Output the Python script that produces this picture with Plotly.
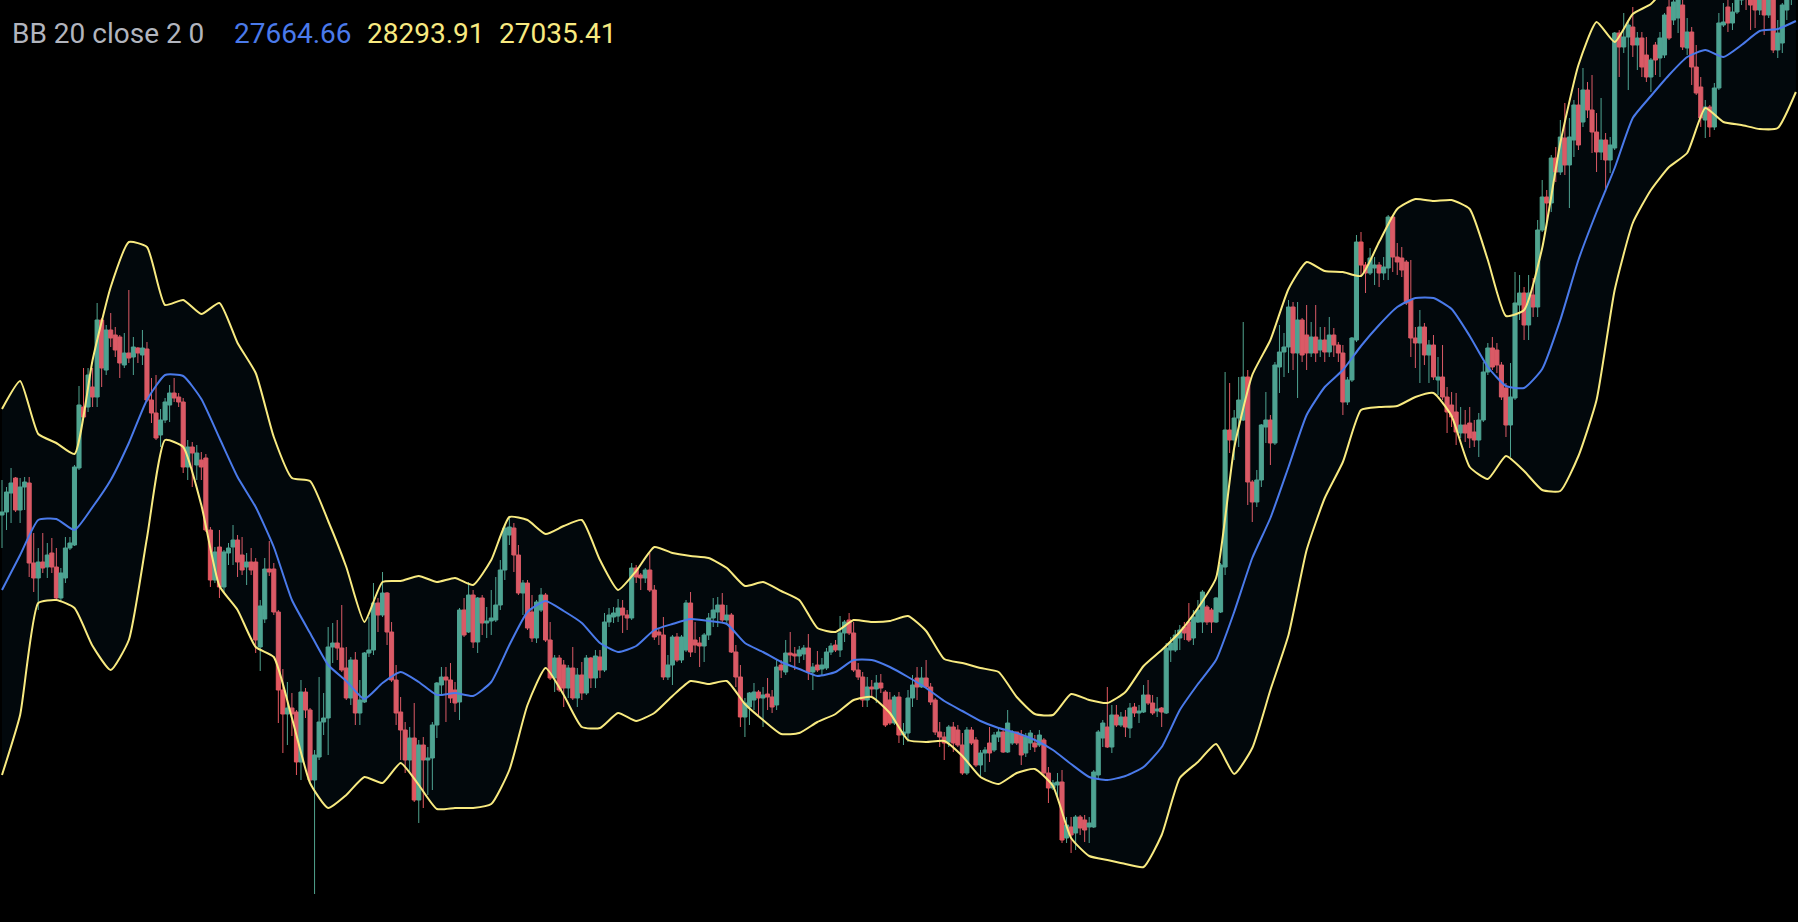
import plotly.graph_objects as go

# ---------------- data (price per candle) ----------------
opens = [
22850, 22880, 23070, 23220, 22900, 23130, 23170, 22370, 22220, 22380,
22330, 22470, 22330, 22020, 22220, 22520, 22550, 23320, 23930, 23930,
24130, 24030, 24800, 24300, 24700, 24650, 24630, 24350, 24470, 24430,
24520, 24450, 24510, 24000, 23870, 23650, 23800, 23950, 24070, 24030,
23980, 23330, 23530, 23350, 23400, 23420, 22700, 22200, 22530, 22130,
22470, 22530, 22600, 22450, 22330, 22380, 22380, 21530, 21810, 22310,
22310, 21880, 21100, 20860, 20920, 20880, 20380, 21080, 20900, 20200,
20430, 20780, 20820, 21530, 21570, 21520, 21320, 21020, 21400, 20870,
20980, 21470, 21500, 21970, 21850, 22070, 21680, 21200, 20880, 20700,
20400, 20620, 20000, 20550, 20400, 20420, 20750, 21150, 21230, 21200,
21100, 20980, 21900, 21680, 22050, 21580, 22020, 21770, 21790, 21800,
21950, 22300, 22650, 22720, 22450, 22070, 22170, 21880, 21620, 21900,
22050, 21600, 21220, 21420, 21350, 21120, 21320, 21020, 21250, 21070,
21420, 21220, 21430, 21300, 21780, 21830, 21840, 21920, 21850, 21820,
22320, 22250, 22220, 22300, 22100, 21680, 21650, 21230, 21350, 21630,
21400, 21500, 21970, 21600, 21570, 21540, 21650, 21820, 21880, 21950,
21800, 21850, 21480, 21230, 20830, 20930, 21000, 21080, 21020, 21060,
21030, 20950, 21350, 21280, 21470, 21460, 21440, 21460, 21520, 21280,
21350, 21310, 21320, 21480, 21550, 21500, 21670, 21800, 21670, 21300,
21230, 21000, 21130, 21110, 21170, 21080, 21000, 20770, 21030, 20650,
20670, 21020, 21220, 21130, 21220, 21130, 21000, 20680, 20630, 20580,
20730, 20700, 20550, 20270, 20700, 20600, 20350, 20470, 20570, 20500,
20630, 20680, 20480, 20570, 20680, 20650, 20470, 20570, 20570, 20550,
20600, 20270, 20120, 20150, 20180, 19620, 19730, 19670, 19830, 19800,
19730, 19730, 20250, 20620, 20730, 20530, 20850, 20750, 20830, 20720,
20930, 20870, 20880, 21050, 20970, 20890, 20920, 20870, 21500, 21500,
21620, 21730, 21780, 21620, 21780, 21780, 21930, 21900, 21780, 21880,
22330, 23700, 23600, 23820, 23800, 24230, 23180, 22980, 23200, 23730,
23800, 23570, 24330, 24480, 24530, 24930, 24470, 24800, 24650, 24470,
24630, 24500, 24600, 24480, 24650, 24550, 24470, 23980, 24200, 24600,
25580, 25350, 25270, 25320, 25350, 25270, 25320, 25830, 25430, 25420,
25380, 25000, 24620, 24570, 24730, 24450, 24550, 24200, 24230, 24030,
23950, 23880, 23670, 23750, 23770, 23680, 23600, 23800, 24280, 24520,
24500, 24350, 24120, 23750, 24020, 24950, 25070, 24750, 25050, 24930,
25700, 26030, 25970, 26420, 26280, 26620, 26350, 26600, 26950, 26780,
27100, 26900, 26680, 26480, 26600, 26400, 26520, 27670, 27530, 27630,
27730, 27550, 27620, 27450, 27230, 27550, 27420, 27450, 27930, 27800,
27820, 27950, 27520, 27680, 27330, 27130, 26800, 26930, 26730, 27120,
27750, 27930, 27770, 27880, 28000, 28200, 28100, 28000, 27900, 28050,
27850, 28050, 27500, 27570, 27900, 28050,
]

highs = [
23200, 23130, 23320, 23230, 23220, 23230, 23230, 22670, 22520, 22670,
22570, 22620, 22520, 22320, 22630, 22630, 23350, 24140, 24320, 24320,
24320, 24970, 24820, 24750, 24870, 24730, 24650, 24670, 25100, 24630,
24530, 24700, 24580, 24220, 24250, 23910, 24020, 24150, 24220, 24070,
24020, 23600, 23580, 23550, 23480, 23460, 22730, 22530, 22700, 22500,
22570, 22750, 22650, 22630, 22470, 22520, 22420, 22000, 22420, 22590,
22370, 21900, 21310, 21180, 21070, 20900, 21200, 21120, 20920, 20500,
21230, 21070, 21730, 21770, 21800, 21950, 21530, 21430, 21480, 21200,
21480, 21830, 22170, 22020, 22280, 22080, 21780, 21350, 21030, 20780,
20730, 20970, 20600, 20630, 20530, 20780, 21180, 21330, 21330, 21370,
21180, 21920, 22020, 22180, 22100, 22030, 22050, 21930, 22100, 22230,
22400, 22750, 22820, 22770, 22550, 22200, 22200, 22050, 22000, 22120,
22070, 21780, 21450, 21450, 21400, 21350, 21530, 21320, 21380, 21450,
21430, 21500, 21500, 21870, 21920, 21930, 22010, 22000, 21900, 22370,
22350, 22270, 22320, 22470, 22150, 21720, 21830, 21450, 21650, 21670,
21650, 22000, 22080, 21780, 21630, 21670, 21870, 22020, 22030, 22070,
21950, 21870, 21550, 21350, 21020, 21080, 21170, 21100, 21130, 21220,
21100, 21400, 21400, 21600, 21680, 21530, 21540, 21550, 21660, 21370,
21490, 21420, 21520, 21570, 21600, 21840, 21800, 21870, 21780, 21370,
21280, 21230, 21200, 21250, 21260, 21100, 21080, 21050, 21080, 20770,
21100, 21250, 21330, 21330, 21400, 21170, 21020, 20780, 20680, 20750,
20780, 20750, 20670, 20730, 20730, 20630, 20500, 20530, 20730, 20680,
20730, 20700, 20900, 20700, 20680, 20700, 20670, 20700, 20650, 20700,
20620, 20330, 20200, 20270, 20300, 19830, 19830, 19850, 19850, 19850,
19830, 20300, 20700, 20800, 21130, 20950, 20950, 20880, 20900, 20970,
20970, 20950, 21150, 21200, 21050, 21030, 20930, 21570, 21630, 21700,
21750, 21780, 21970, 21900, 22000, 22100, 21950, 21920, 22030, 22370,
24280, 24170, 23900, 24230, 24780, 24300, 23200, 23300, 23760, 24080,
23850, 24380, 24750, 24670, 25000, 24980, 24980, 24820, 24950, 24780,
24950, 24730, 24730, 24830, 24720, 24580, 24550, 24230, 24630, 25650,
25680, 25380, 25520, 25430, 25380, 25430, 25850, 25850, 25570, 25530,
25400, 25400, 24730, 24900, 24770, 24600, 24650, 24430, 24550, 24130,
24080, 24070, 23930, 23900, 23930, 23800, 23870, 24380, 24570, 24630,
24570, 24380, 24170, 24370, 25280, 25250, 25130, 25250, 25220, 25800,
26200, 26100, 26450, 26530, 26800, 26970, 26820, 27000, 27120, 27320,
27180, 27250, 26870, 27020, 26670, 26630, 27680, 27700, 27870, 27800,
27930, 27680, 27680, 27630, 27420, 27580, 27680, 27870, 28000, 28080,
28100, 28050, 27820, 27730, 27550, 27230, 27000, 26950, 27170, 27870,
27970, 28030, 27970, 28080, 28300, 28300, 28200, 28100, 28150, 28100,
28100, 28100, 27800, 27970, 28100, 28300,
]

lows = [
22520, 22700, 22770, 22880, 22770, 22900, 22230, 22080, 21900, 22270,
22220, 22270, 22000, 21980, 22170, 22500, 22540, 23300, 23820, 23880,
23930, 23930, 24130, 24250, 24530, 24430, 24220, 24320, 24370, 24250,
24370, 24350, 23980, 23770, 23600, 23530, 23770, 23780, 23980, 23930,
23270, 23200, 23130, 23200, 23200, 22680, 22130, 22170, 22020, 22080,
22350, 22350, 22230, 22250, 22150, 22250, 21470, 21290, 21770, 22240,
21850, 20770, 20470, 20550, 20640, 20250, 20200, 20820, 20180, 19060,
20400, 20650, 20450, 21370, 21400, 21280, 21000, 20950, 20750, 20750,
20970, 21430, 21450, 21680, 21830, 21550, 21180, 20750, 20400, 20270,
20270, 19980, 19770, 19920, 20050, 20100, 20620, 21050, 20780, 20970,
20880, 20800, 21630, 21670, 21520, 21470, 21650, 21620, 21650, 21780,
21900, 22200, 22550, 22280, 22050, 21850, 21700, 21580, 21570, 21880,
21580, 21200, 21080, 21080, 20930, 21020, 21000, 20930, 21000, 21050,
21120, 21120, 21220, 21280, 21730, 21770, 21780, 21670, 21700, 21800,
22170, 22100, 22170, 22080, 21600, 21550, 21200, 21200, 21150, 21380,
21370, 21480, 21430, 21470, 21330, 21380, 21600, 21730, 21730, 21780,
21750, 21470, 21130, 20730, 20630, 20750, 20900, 20850, 20730, 20900,
20870, 20900, 21220, 21250, 21380, 21300, 21370, 21400, 21200, 21100,
21280, 21240, 21300, 21450, 21480, 21430, 21580, 21650, 21280, 21200,
20930, 20930, 21020, 20970, 21070, 20730, 20750, 20750, 20570, 20550,
20580, 20930, 21000, 21120, 21120, 20950, 20650, 20530, 20400, 20530,
20480, 20530, 20250, 20250, 20550, 20330, 20230, 20280, 20380, 20480,
20580, 20470, 20470, 20550, 20550, 20350, 20430, 20500, 20480, 20530,
20230, 19970, 20100, 20030, 19570, 19570, 19470, 19500, 19650, 19580,
19570, 19720, 20220, 20530, 20520, 20470, 20730, 20730, 20630, 20620,
20830, 20770, 20870, 20950, 20850, 20830, 20730, 20860, 21380, 21480,
21500, 21600, 21580, 21550, 21770, 21670, 21750, 21670, 21770, 21870,
22250, 23470, 23400, 23530, 23790, 22950, 22780, 22930, 23130, 23570,
23350, 23550, 24070, 24230, 24270, 24300, 24020, 24380, 24300, 24430,
24380, 24430, 24380, 24430, 24430, 24380, 23850, 23950, 24180, 24580,
25250, 25070, 25250, 25150, 25130, 25200, 25200, 25280, 25250, 25230,
24950, 24430, 24320, 24170, 24350, 24170, 24200, 24050, 24000, 23670,
23730, 23550, 23620, 23580, 23520, 23530, 23430, 23780, 24250, 24300,
24270, 24000, 23630, 23430, 24000, 24800, 24600, 24600, 24830, 24830,
25680, 25780, 25880, 26180, 26250, 26250, 25920, 26430, 26500, 26730,
26820, 26470, 26280, 26400, 26080, 26270, 26500, 27230, 27470, 27100,
27430, 27300, 27230, 27180, 27080, 27250, 27230, 27420, 27600, 27750,
27670, 27500, 27450, 27150, 27050, 26730, 26620, 26630, 26700, 27100,
27730, 27680, 27700, 27860, 27950, 27900, 27700, 27720, 27850, 27650,
27820, 27470, 27420, 27470, 27800, 27950,
]

closes = [
22880, 23080, 23170, 22900, 23130, 23180, 22370, 22220, 22380, 22320,
22450, 22330, 22020, 22270, 22520, 22570, 23330, 23950, 23830, 24250,
24030, 24800, 24320, 24700, 24620, 24500, 24370, 24470, 24420, 24530,
24470, 24520, 24000, 23870, 23620, 23800, 23980, 24070, 24020, 23980,
23330, 23530, 23470, 23470, 23330, 22700, 22200, 22480, 22130, 22480,
22520, 22600, 22380, 22300, 22380, 22300, 21600, 21940, 22310, 22280,
21880, 21100, 20860, 20920, 20860, 20380, 21080, 20900, 20200, 20450,
20780, 20820, 21530, 21570, 21520, 21300, 21020, 21400, 20870, 21000,
21470, 21500, 21970, 21850, 22070, 21680, 21200, 20870, 20700, 20400,
20620, 20000, 20550, 20400, 20420, 20750, 21170, 21230, 21200, 21020,
20970, 21900, 21650, 22050, 21580, 22020, 21770, 21790, 21820, 21950,
22300, 22720, 22730, 22450, 22070, 22170, 21720, 21620, 21980, 22050,
21600, 21220, 21420, 21100, 21120, 21320, 21020, 21250, 21070, 21420,
21220, 21440, 21300, 21780, 21850, 21870, 21920, 21850, 21820, 22320,
22230, 22220, 22300, 22100, 21630, 21650, 21230, 21350, 21630, 21400,
21630, 21970, 21480, 21550, 21540, 21650, 21820, 21900, 21950, 21800,
21850, 21480, 21230, 20830, 20970, 21070, 21080, 21020, 21050, 21030,
20930, 21330, 21300, 21470, 21450, 21440, 21500, 21520, 21280, 21330,
21300, 21350, 21480, 21540, 21500, 21670, 21780, 21670, 21300, 21230,
21000, 21130, 21110, 21170, 21120, 20750, 20770, 21030, 20650, 20680,
21020, 21150, 21130, 21220, 21130, 20980, 20680, 20630, 20570, 20730,
20570, 20550, 20270, 20700, 20570, 20350, 20470, 20500, 20470, 20650,
20680, 20480, 20770, 20680, 20570, 20450, 20630, 20670, 20530, 20650,
20270, 20120, 20170, 20180, 19600, 19750, 19650, 19830, 19720, 19700,
19770, 20280, 20680, 20770, 20530, 20850, 20750, 20830, 20730, 20920,
20870, 20890, 21050, 20970, 20870, 20910, 20880, 21520, 21570, 21650,
21700, 21670, 21600, 21830, 21900, 22080, 21780, 21780, 22020, 22350,
23700, 23600, 23820, 24000, 24230, 23180, 22980, 23200, 23750, 23800,
23570, 24350, 24480, 24530, 24930, 24470, 24800, 24450, 24470, 24630,
24470, 24600, 24480, 24650, 24550, 24470, 23980, 24200, 24620, 25580,
25350, 25270, 25420, 25350, 25270, 25330, 25830, 25430, 25380, 25300,
24970, 24620, 24570, 24730, 24450, 24550, 24230, 24230, 24030, 23880,
23830, 23680, 23750, 23670, 23620, 23600, 23800, 24280, 24520, 24330,
24350, 24030, 23750, 24030, 24970, 25070, 24750, 25070, 24930, 25700,
26030, 25970, 26420, 26280, 26630, 26350, 26630, 26950, 26550, 27100,
26900, 26680, 26480, 26600, 26400, 26550, 27670, 27530, 27630, 27750,
27550, 27620, 27330, 27230, 27400, 27400, 27620, 27850, 27620, 27980,
28000, 27530, 27680, 27330, 27070, 26820, 26930, 26730, 27120, 27770,
27780, 27770, 27880, 28000, 28200, 28050, 27950, 27900, 28050, 27850,
28000, 27500, 27670, 27950, 28050, 28200,
]

# Bollinger band values at every 4th candle
bb_step = 4
bb_upper = [
23910, 24190, 23660, 23570, 23460, 24400, 25130, 25580, 25530, 24950,
25000, 24860, 24970, 24570, 24270, 23630, 23220, 23190, 22790, 22330,
21780, 22180, 22190, 22240, 22180, 22220, 22150, 22400, 22830, 22800,
22660, 22740, 22800, 22400, 22100, 22290, 22530, 22470, 22440, 22420,
22320, 22140, 22180, 22090, 22000, 21720, 21680, 21800, 21780, 21790,
21840, 21690, 21410, 21370, 21320, 21280, 21030, 20860, 20850, 21060,
21000, 20970, 21080, 21340, 21500, 21680, 21920, 22220, 23520, 24250,
24600, 25110, 25380, 25290, 25280, 25240, 25580, 25910, 26010, 25990,
26000, 25910, 25400, 24840, 24900, 25520, 26570, 27350, 27780, 27580,
27860, 27960, 28170, 28390, 28080, 28080, 28350, 28670, 28700, 28500,
]
bb_basis = [
22100, 22450, 22800, 22810, 22700, 22930, 23200, 23570, 24000, 24250,
24240, 24010, 23620, 23230, 22930, 22530, 22000, 21670, 21350, 21190,
21010, 21170, 21280, 21180, 21050, 21070, 21040, 21180, 21550, 21880,
21990, 21890, 21770, 21570, 21480, 21540, 21700, 21760, 21810, 21790,
21760, 21570, 21480, 21380, 21310, 21240, 21280, 21400, 21400, 21330,
21230, 21120, 20990, 20890, 20790, 20720, 20670, 20600, 20500, 20360,
20230, 20200, 20240, 20330, 20530, 20900, 21160, 21400, 21880, 22420,
22820, 23330, 23850, 24130, 24300, 24540, 24750, 24930, 25020, 25020,
24910, 24640, 24330, 24140, 24120, 24310, 24800, 25400, 25880, 26320,
26820, 27040, 27250, 27430, 27500, 27430, 27550, 27690, 27710, 27790,
]
bb_lower = [
20250, 20850, 21970, 22000, 21920, 21540, 21300, 21600, 22620, 23600,
23530, 22950, 22140, 21900, 21530, 21430, 20820, 20170, 19920, 20050,
20230, 20170, 20370, 20150, 19910, 19920, 19920, 19960, 20300, 20950,
21320, 21050, 20730, 20720, 20870, 20790, 20870, 21040, 21190, 21160,
21190, 20960, 20800, 20660, 20670, 20780, 20860, 21000, 21030, 20870,
20600, 20580, 20590, 20440, 20230, 20160, 20270, 20310, 20140, 19620,
19440, 19400, 19360, 19330, 19650, 20220, 20380, 20560, 20260, 20520,
21100, 21650, 22500, 23020, 23380, 23900, 23930, 23940, 24030, 24070,
23840, 23330, 23210, 23440, 23290, 23100, 23090, 23440, 24000, 25100,
25770, 26100, 26330, 26470, 26920, 26780, 26750, 26710, 26720, 27080,
]

legend_label = "BB 20 close 2 0"
legend_values = ["27664.66", "28293.91", "27035.41"]

# ---------------- styling ----------------
W, H = 1798, 922
UP, DOWN = "#51a48e", "#e4575f"
YELLOW = "#f8ea80"
BLUE = "#4a7aea"
GREY = "#b2b5be"
FILL = "rgba(33,150,243,0.05)"

candle_x = list(range(len(closes)))
bb_x = list(range(0, bb_step * len(bb_upper), bb_step))

fig = go.Figure()

fig.add_trace(go.Candlestick(
    x=candle_x, open=opens, high=highs, low=lows, close=closes,
    increasing=dict(line=dict(color=UP, width=1), fillcolor=UP),
    decreasing=dict(line=dict(color=DOWN, width=1), fillcolor=DOWN),
    whiskerwidth=0, hoverinfo="skip", showlegend=False,
))

fig.add_trace(go.Scatter(
    x=bb_x, y=bb_upper, mode="lines",
    line=dict(color=YELLOW, width=2, shape="spline", smoothing=0.5),
    hoverinfo="skip", showlegend=False,
))
fig.add_trace(go.Scatter(
    x=bb_x, y=bb_lower, mode="lines",
    line=dict(color=YELLOW, width=2, shape="spline", smoothing=0.5),
    fill="tonexty", fillcolor=FILL,
    hoverinfo="skip", showlegend=False,
))
fig.add_trace(go.Scatter(
    x=bb_x, y=bb_basis, mode="lines",
    line=dict(color=BLUE, width=2, shape="spline", smoothing=0.5),
    hoverinfo="skip", showlegend=False,
))

font_family = "Roboto, 'Open Sans', sans-serif"
ann_y = 1 - 33 / H
texts = [
    (legend_label, 9.5, GREY),
    (legend_values[0], 232, BLUE),
    (legend_values[1], 365, YELLOW),
    (legend_values[2], 497, YELLOW),
]
annotations = [
    dict(text=t, x=px / W, y=ann_y, xref="paper", yref="paper",
         xanchor="left", yanchor="middle", showarrow=False,
         font=dict(family=font_family, size=28, color=c))
    for t, px, c in texts
]

spacing = 4.53
fig.update_layout(
    width=W, height=H,
    margin=dict(l=0, r=0, t=0, b=0),
    paper_bgcolor="#000000", plot_bgcolor="#000000",
    showlegend=False, hovermode=False,
    boxgap=0.1, boxgroupgap=0.0,
    annotations=annotations,
    xaxis=dict(visible=False, range=[-2 / spacing, (W - 2) / spacing],
               rangeslider=dict(visible=False), fixedrange=True),
    yaxis=dict(visible=False, range=[18780, 28000], fixedrange=True),
)

fig.write_html("out.html", config={"displayModeBar": False})
